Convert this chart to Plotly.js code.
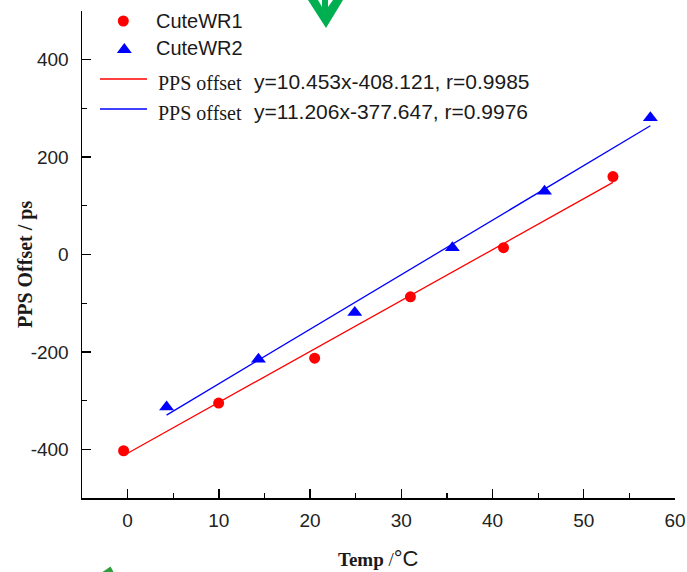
<!DOCTYPE html>
<html>
<head>
<meta charset="utf-8">
<script src="https://cdn.plot.ly/plotly-3.0.1.min.js"></script>
<style>html,body{margin:0;padding:0;background:#fff;}#chart{width:687px;height:572px;}</style>
</head>
<body>
<div id="chart"></div>
<script>
// ---- data ----
var wr1Temp = [-0.44, 9.98, 20.5, 31.0, 41.2, 53.2];
var wr1Offset = [-403, -305, -213, -87, 14, 160];
var wr2Temp = [4.27, 14.34, 24.9, 35.6, 45.7, 57.3];
var wr2Offset = [-313, -215, -119, 14, 130, 281];
// fitted lines stated in the legend
var fitSlope = [10.453, 11.206];
var fitIntercept = [-408.121, -377.647];
var fitR = [0.9985, 0.9976];
var seriesNames = ['CuteWR1', 'CuteWR2'];
var yTickVals = [-400, -200, 0, 200, 400];
var xTickVals = [0, 10, 20, 30, 40, 50, 60];

// ---- layout geometry ----
var W = 687, H = 572, ML = 82, MR = 12, MT = 11, MB = 74;
var PW = W - ML - MR, PH = H - MT - MB;
function px(x) { return (x - ML) / PW; }
function py(y) { return (H - MB - y) / PH; }
function poly(pts) {
  return 'M' + pts.map(function (p) { return px(p[0]) + ',' + py(p[1]); }).join(' L') + ' Z';
}

function fitLine(xs, i) {
  var x0 = Math.min.apply(null, xs), x1 = Math.max.apply(null, xs);
  return { x: [x0, x1], y: [fitSlope[i] * x0 + fitIntercept[i], fitSlope[i] * x1 + fitIntercept[i]] };
}
var f1 = fitLine(wr1Temp, 0), f2 = fitLine(wr2Temp, 1);

var traces = [
  { x: f1.x, y: f1.y, mode: 'lines', line: { color: '#ff0000', width: 1.3 }, showlegend: false, hoverinfo: 'skip' },
  { x: f2.x, y: f2.y, mode: 'lines', line: { color: '#0000ff', width: 1.3 }, showlegend: false, hoverinfo: 'skip' },
  { x: wr1Temp, y: wr1Offset, name: seriesNames[0], mode: 'markers', marker: { symbol: 'circle', size: 11, color: '#ff0000' }, showlegend: false },
  { x: wr2Temp, y: wr2Offset, name: seriesNames[1], mode: 'markers', marker: { symbol: 'triangle-up', size: 13, color: '#0000ff' }, showlegend: false }
];

var sans = 'Liberation Sans, Arial, sans-serif';
var serif = 'Liberation Serif, Times New Roman, serif';
var txt = '#1a1a1a';

function eq(i) {
  return 'y=' + fitSlope[i].toFixed(3) + 'x' + fitIntercept[i].toFixed(3) + ', r=' + fitR[i].toFixed(4);
}

var annotations = [
  // legend texts
  { xref: 'paper', yref: 'paper', x: px(154), y: py(21), xanchor: 'left', yanchor: 'middle', text: seriesNames[0], showarrow: false, font: { family: sans, size: 20, color: txt } },
  { xref: 'paper', yref: 'paper', x: px(154), y: py(48), xanchor: 'left', yanchor: 'middle', text: seriesNames[1], showarrow: false, font: { family: sans, size: 20, color: txt } },
  { xref: 'paper', yref: 'paper', x: px(156), y: py(83), xanchor: 'left', yanchor: 'middle', text: 'PPS offset', showarrow: false, font: { family: serif, size: 20, color: txt } },
  { xref: 'paper', yref: 'paper', x: px(252), y: py(81), xanchor: 'left', yanchor: 'middle', text: eq(0), showarrow: false, font: { family: sans, size: 21, color: txt } },
  { xref: 'paper', yref: 'paper', x: px(156), y: py(113), xanchor: 'left', yanchor: 'middle', text: 'PPS offset', showarrow: false, font: { family: serif, size: 20, color: txt } },
  { xref: 'paper', yref: 'paper', x: px(252), y: py(111), xanchor: 'left', yanchor: 'middle', text: eq(1), showarrow: false, font: { family: sans, size: 21, color: txt } },
  // axis titles
  { xref: 'paper', yref: 'paper', x: px(378), y: py(572), xanchor: 'center', yanchor: 'bottom', showarrow: false, borderpad: 0,
    text: '<b>Temp</b> /<span style="font-family:Liberation Sans, Arial;font-size:22px">°C</span>', font: { family: serif, size: 19, color: txt } },
  { xref: 'paper', yref: 'paper', x: px(25), y: py(265), xanchor: 'center', yanchor: 'middle', showarrow: false, textangle: -90,
    text: '<b>PPS Offset / ps</b>', font: { family: serif, size: 20, color: txt } }
];

var shapes = [
  // legend symbols
  { type: 'circle', xref: 'paper', yref: 'paper', x0: px(117.8), x1: px(128.8), y0: py(15.5), y1: py(26.5), fillcolor: '#ff0000', line: { width: 0 } },
  { type: 'path', xref: 'paper', yref: 'paper', path: poly([[116.8, 53], [131.8, 53], [124.3, 43]]), fillcolor: '#0000ff', line: { width: 0 } },
  { type: 'line', xref: 'paper', yref: 'paper', x0: px(100), x1: px(147), y0: py(79), y1: py(79), line: { color: '#ff0000', width: 1.3 } },
  { type: 'line', xref: 'paper', yref: 'paper', x0: px(100), x1: px(147), y0: py(109), y1: py(109), line: { color: '#0000ff', width: 1.3 } },
  // green marks present in the reference image
  { type: 'path', xref: 'paper', yref: 'paper', path: poly([[308, 0], [318, 0], [322, 7], [322, 0], [328, 0], [328, 7], [333, 0], [343, 0], [326, 28]]), fillcolor: '#00b050', line: { width: 0 } },
  { type: 'path', xref: 'paper', yref: 'paper', path: poly([[102.5, 572], [110.5, 566.5], [113.5, 572]]), fillcolor: '#2e9e3e', line: { width: 0 } }
];

var axisCommon = {
  showgrid: false, zeroline: false, showline: true, linecolor: '#000', linewidth: 1.5,
  ticks: 'inside', ticklen: 9, tickwidth: 1.3, tickcolor: '#000',
  tickfont: { family: sans, size: 19, color: '#222' }, fixedrange: true
};

var layout = {
  width: W, height: H,
  margin: { l: ML, r: MR, t: MT, b: MB, pad: 0 },
  paper_bgcolor: '#fff', plot_bgcolor: '#fff',
  showlegend: false,
  xaxis: Object.assign({}, axisCommon, {
    range: [-5, 60], tickmode: 'array', tickvals: xTickVals, ticktext: xTickVals.map(String),
    ticklabelstandoff: 5,
    minor: { dtick: 5, tick0: 0, ticks: 'inside', ticklen: 5, tickwidth: 1.3, tickcolor: '#000', showgrid: false }
  }),
  yaxis: Object.assign({}, axisCommon, {
    range: [-500, 500], tickmode: 'array', tickvals: yTickVals, ticktext: yTickVals.map(String),
    ticklabelstandoff: 8,
    minor: { dtick: 100, tick0: 0, ticks: 'inside', ticklen: 5, tickwidth: 1.3, tickcolor: '#000', showgrid: false }
  }),
  annotations: annotations,
  shapes: shapes
};

Plotly.newPlot('chart', traces, layout, { displayModeBar: false, staticPlot: true });
</script>
</body>
</html>
